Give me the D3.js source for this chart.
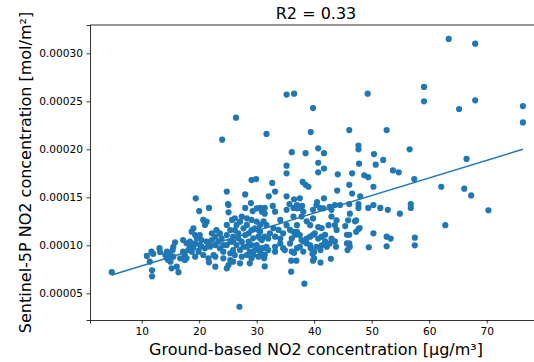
<!DOCTYPE html>
<html>
<head>
<meta charset="utf-8">
<script src="https://cdn.jsdelivr.net/npm/d3@7"></script>
<style>
  body { margin: 0; background: #fff; }
  svg { display: block; font-family: "DejaVu Sans", sans-serif; }
</style>
</head>
<body>
<svg id="chart" width="534" height="362"></svg>
<script>
// ground-based NO2 (µg/m³) and Sentinel-5P NO2 (mol/m²)
const groundNO2 = [
  4.8, 27.0, 63.4, 68.0, 35.2, 36.5, 49.3, 59.1, 59.1, 68.0, 65.2, 39.8, 76.3, 76.3, 24.0, 26.4, 31.7, 66.5, 62.1, 66.1, 67.3, 70.3, 62.8,
  39.4, 36.1, 38.5, 40.7, 41.7, 35.2, 35.2, 40.7, 41.7, 40.7, 44.1, 32.7, 33.2, 32.1, 38.0, 38.5, 39.0, 35.2, 36.5, 37.5, 41.7, 44.0,
  32.8, 35.7, 37.0, 37.9, 40.5, 40.4, 30.6, 31.4, 42.7, 43.6, 41.0, 36.4, 37.5,
  46.1, 52.6, 47.7, 47.7, 56.6, 50.4, 52.0, 47.8, 50.7, 53.7, 54.7, 46.6, 48.7, 49.4, 57.4, 46.1, 50.3, 46.6, 48.0, 46.1, 47.7, 50.3,
  56.8, 56.8, 51.5, 52.8, 44.5, 49.4, 47.7,
  19.4, 24.8, 28.0, 25.0, 29.0, 29.9, 29.1,
  54.9, 46.2, 45.9, 47.3, 45.4, 47.7, 47.9, 47.3, 45.7, 46.1, 50.3, 52.6, 53.3, 57.5, 45.7, 46.1, 46.2, 45.8, 49.5, 52.6, 57.5, 47.1,
  38.3, 36.0, 31.4, 42.9, 41.1, 39.8, 40.0, 36.0, 36.9, 36.5, 36.1, 41.1, 39.4, 40.0, 39.7, 38.1, 37.0, 37.5, 31.1, 31.7, 32.0, 31.4,
  30.9, 31.3, 30.6, 33.2, 34.1, 34.6, 34.9, 35.8, 36.1, 36.7, 36.4, 38.7, 39.3, 39.8, 40.1, 38.1, 38.7, 37.8, 39.3, 40.7, 41.3, 41.9,
  41.3, 42.2, 42.7, 43.0, 43.6, 43.8, 43.9, 43.6, 42.5, 43.0, 43.9, 41.3, 40.7, 39.3, 38.7, 39.8, 37.8, 36.4, 35.2, 35.8, 34.6, 33.8,
  32.9, 32.3, 31.4, 30.9, 31.7, 31.2, 30.9, 31.4, 33.2, 35.2, 37.0, 38.1, 39.8, 41.6, 43.0,
  20.0, 21.7, 25.1, 25.1, 28.0, 29.3, 30.0, 20.7, 21.3, 21.0, 25.7, 26.2, 27.4, 29.1, 30.0, 28.3, 27.7, 26.2, 26.8, 29.1, 29.7, 30.6,
  19.0, 18.7, 19.3, 22.2, 23.0, 22.8, 23.9, 24.8, 25.9, 25.4, 24.8, 28.0, 29.4, 30.3, 30.0, 17.2, 17.8, 18.4, 19.6, 20.4, 21.3, 20.1,
  19.0, 18.1, 17.2, 19.9, 21.0, 21.9, 22.8, 23.6, 24.2, 26.5, 27.1, 28.3, 28.8, 29.7, 30.6, 17.5, 17.8, 19.3, 20.7, 21.6, 22.5, 25.4,
  26.2, 27.4, 28.3, 29.1, 25.4, 25.9, 27.1, 25.1, 22.8, 21.7, 22.8, 24.8, 16.7, 30.3, 17.5, 28.8,
  10.9, 11.7, 12.0, 11.4, 11.8, 11.8, 13.1, 13.2, 14.1, 14.4, 14.6, 15.0, 14.4, 14.9, 15.4, 15.5, 15.8, 15.5, 15.2, 16.4, 16.1,
  18.4, 19.3, 18.7, 20.4, 21.6, 22.2, 23.3, 24.2, 25.9, 26.8, 27.4, 28.6, 29.1, 27.7, 25.9, 26.5, 27.1, 28.3, 28.6, 30.3, 25.4, 24.8,
  23.6, 20.1, 29.4, 24.2, 30.6, 30.6, 32.0, 33.2, 34.1, 33.2, 37.0, 37.5, 41.9, 40.4, 37.0, 34.1
];
const sentinelNO2 = [
  0.72e-4, 0.36e-4, 3.15e-4, 3.10e-4, 2.57e-4, 2.58e-4, 2.58e-4, 2.65e-4, 2.50e-4, 2.51e-4, 2.42e-4, 2.43e-4, 2.45e-4, 2.28e-4, 2.10e-4, 2.33e-4, 2.16e-4, 1.90e-4, 1.61e-4, 1.59e-4, 1.52e-4, 1.365e-4, 1.21e-4,
  2.18e-4, 1.97e-4, 1.96e-4, 2.01e-4, 1.96e-4, 1.83e-4, 1.75e-4, 1.86e-4, 1.80e-4, 1.76e-4, 1.74e-4, 1.65e-4, 1.56e-4, 1.51e-4, 1.66e-4, 1.63e-4, 1.61e-4, 1.51e-4, 1.48e-4, 1.49e-4, 1.49e-4, 1.57e-4,
  1.41e-4, 1.43e-4, 1.42e-4, 1.41e-4, 1.45e-4, 1.42e-4, 1.39e-4, 1.39e-4, 1.40e-4, 1.42e-4, 1.39e-4, 1.39e-4, 1.39e-4,
  2.20e-4, 2.20e-4, 2.04e-4, 2.00e-4, 2.00e-4, 1.95e-4, 1.89e-4, 1.85e-4, 1.84e-4, 1.78e-4, 1.76e-4, 1.75e-4, 1.73e-4, 1.71e-4, 1.69e-4, 1.63e-4, 1.61e-4, 1.54e-4, 1.51e-4, 1.43e-4, 1.43e-4, 1.42e-4,
  1.43e-4, 1.39e-4, 1.39e-4, 1.37e-4, 1.42e-4, 1.39e-4, 1.39e-4,
  1.49e-4, 1.56e-4, 1.53e-4, 1.43e-4, 1.44e-4, 1.69e-4, 1.68e-4,
  1.33e-4, 1.33e-4, 1.26e-4, 1.26e-4, 1.20e-4, 1.17e-4, 1.18e-4, 1.14e-4, 1.11e-4, 1.11e-4, 1.125e-4, 1.09e-4, 1.07e-4, 1.08e-4, 1.02e-4, 1.02e-4, 0.985e-4, 0.95e-4, 0.98e-4, 0.99e-4, 1.00e-4, 1.25e-4,
  0.60e-4, 0.725e-4, 0.78e-4, 0.86e-4, 0.82e-4, 0.84e-4, 0.865e-4, 0.84e-4, 0.84e-4, 0.92e-4, 0.935e-4, 0.95e-4, 0.97e-4, 0.93e-4, 0.91e-4, 0.935e-4, 0.97e-4, 0.985e-4, 0.97e-4, 0.985e-4, 0.95e-4, 0.90e-4,
  0.90e-4, 0.865e-4, 0.935e-4, 0.985e-4, 1.02e-4, 0.97e-4, 0.95e-4, 1.02e-4, 1.07e-4, 1.11e-4, 1.14e-4, 1.07e-4, 1.09e-4, 1.11e-4, 1.125e-4, 1.04e-4, 1.02e-4, 1.055e-4, 1.00e-4, 1.07e-4, 1.09e-4, 1.11e-4,
  1.00e-4, 0.985e-4, 1.02e-4, 1.07e-4, 1.04e-4, 0.985e-4, 1.16e-4, 1.21e-4, 1.21e-4, 1.30e-4, 1.26e-4, 1.18e-4, 1.19e-4, 1.21e-4, 1.25e-4, 1.28e-4, 1.30e-4, 1.30e-4, 1.21e-4, 1.16e-4, 1.125e-4, 1.16e-4,
  1.18e-4, 1.125e-4, 1.09e-4, 1.055e-4, 1.21e-4, 1.25e-4, 1.35e-4, 1.33e-4, 1.35e-4, 1.37e-4, 1.385e-4, 1.35e-4, 1.37e-4, 1.385e-4, 1.37e-4,
  1.357e-4, 1.39e-4, 1.42e-4, 1.344e-4, 1.39e-4, 1.357e-4, 1.385e-4, 1.264e-4, 1.246e-4, 1.212e-4, 1.264e-4, 1.281e-4, 1.298e-4, 1.264e-4, 1.246e-4, 1.212e-4, 1.177e-4, 1.159e-4, 1.125e-4, 1.159e-4, 1.177e-4, 1.212e-4,
  1.177e-4, 1.142e-4, 1.107e-4, 1.125e-4, 1.159e-4, 1.090e-4, 1.073e-4, 1.107e-4, 1.090e-4, 1.038e-4, 1.003e-4, 1.107e-4, 1.073e-4, 1.090e-4, 1.003e-4, 1.055e-4, 1.021e-4, 1.038e-4, 1.073e-4, 1.055e-4, 1.038e-4, 1.003e-4,
  0.986e-4, 0.951e-4, 0.934e-4, 0.934e-4, 0.969e-4, 0.986e-4, 1.003e-4, 0.969e-4, 0.934e-4, 1.003e-4, 0.951e-4, 0.986e-4, 0.934e-4, 0.951e-4, 0.969e-4, 0.899e-4, 0.864e-4, 0.882e-4, 0.899e-4, 0.864e-4, 0.899e-4, 0.917e-4,
  0.899e-4, 0.882e-4, 0.899e-4, 0.864e-4, 0.847e-4, 0.830e-4, 0.812e-4, 0.795e-4, 0.882e-4, 0.823e-4, 0.777e-4, 0.760e-4, 0.864e-4, 0.882e-4, 0.847e-4, 0.812e-4,
  0.889e-4, 0.934e-4, 0.91e-4, 0.83e-4, 0.74e-4, 0.677e-4, 0.97e-4, 0.93e-4, 0.899e-4, 0.864e-4, 0.847e-4, 0.83e-4, 0.934e-4, 0.91e-4, 0.951e-4, 0.985e-4, 1.031e-4, 0.882e-4, 0.76e-4, 0.72e-4, 0.777e-4,
  0.986e-4, 1.021e-4, 0.934e-4, 0.986e-4, 1.021e-4, 1.055e-4, 1.038e-4, 1.003e-4, 1.038e-4, 1.073e-4, 1.038e-4, 1.038e-4, 1.003e-4, 0.986e-4, 0.951e-4, 1.212e-4, 1.246e-4, 1.281e-4, 1.125e-4, 1.159e-4, 1.159e-4, 1.212e-4,
  1.125e-4, 1.107e-4, 0.899e-4, 0.864e-4, 1.073e-4, 1.14e-4, 1.07e-4, 1.09e-4, 1.07e-4, 0.934e-4, 1.14e-4, 1.107e-4, 1.04e-4, 0.985e-4, 1.21e-4, 1.264e-4
];
// fitted line
const fitIntercept = 6.03e-5;
const fitSlope = 1.832e-6;
const xTicks = [10, 20, 30, 40, 50, 60, 70];
const yTicks = [0.00005, 0.0001, 0.00015, 0.0002, 0.00025, 0.0003];

const svg = d3.select("#chart");
const blue = "#1f77b4";
const plotLeft = 90, plotRight = 542, plotTop = 25, plotBottom = 320;

const x = d3.scaleLinear().domain([1.01, 79.62]).range([plotLeft, plotRight]);
const y = d3.scaleLinear().domain([2.22e-5, 3.295e-4]).range([plotBottom, plotTop]);

const xAxis = svg.append("g")
    .attr("transform", `translate(0,${plotBottom})`)
    .call(d3.axisBottom(x).tickValues(xTicks).tickSizeOuter(0).tickSize(3.5).tickPadding(3.5));
const yAxis = svg.append("g")
    .attr("transform", `translate(${plotLeft},0)`)
    .call(d3.axisLeft(y).tickValues(yTicks).tickFormat(d3.format(".5f")).tickSizeOuter(0).tickSize(3.5).tickPadding(3.5));

[xAxis, yAxis].forEach(a => {
    a.selectAll("text").style("font-size", "10.6px").attr("fill", "#000").style("font-family", "DejaVu Sans");
    a.selectAll("line").attr("stroke", "#000").attr("stroke-width", 0.8);
    a.select(".domain").attr("stroke", "#000").attr("stroke-width", 0.8);
});

svg.append("line")
    .attr("x1", plotLeft).attr("x2", plotRight)
    .attr("y1", plotTop).attr("y2", plotTop)
    .attr("stroke", "#000").attr("stroke-width", 0.8);

const pts = groundNO2.map((g, i) => ({ g, s: sentinelNO2[i] }));

svg.append("g").selectAll("circle")
    .data(pts)
    .join("circle")
    .attr("cx", d => x(d.g))
    .attr("cy", d => y(d.s))
    .attr("r", 3.1)
    .attr("fill", blue);

const [gMin, gMax] = d3.extent(groundNO2);
svg.append("path")
    .datum([gMin, gMax])
    .attr("d", d3.line().x(d => x(d)).y(d => y(fitIntercept + fitSlope * d)))
    .attr("stroke", blue)
    .attr("stroke-width", 1.5)
    .attr("fill", "none");

svg.append("text")
    .attr("x", (plotLeft + plotRight) / 2)
    .attr("y", 19)
    .attr("text-anchor", "middle")
    .style("font-size", "16px")
    .text("R2 = 0.33");

svg.append("text")
    .attr("x", (plotLeft + plotRight) / 2)
    .attr("y", 354.5)
    .attr("text-anchor", "middle")
    .style("font-size", "16px")
    .text("Ground-based NO2 concentration [µg/m³]");

svg.append("text")
    .attr("transform", `translate(31,${(plotTop + plotBottom) / 2}) rotate(-90)`)
    .attr("text-anchor", "middle")
    .style("font-size", "16px")
    .text("Sentinel-5P NO2 concentration [mol/m²]");
</script>
</body>
</html>
